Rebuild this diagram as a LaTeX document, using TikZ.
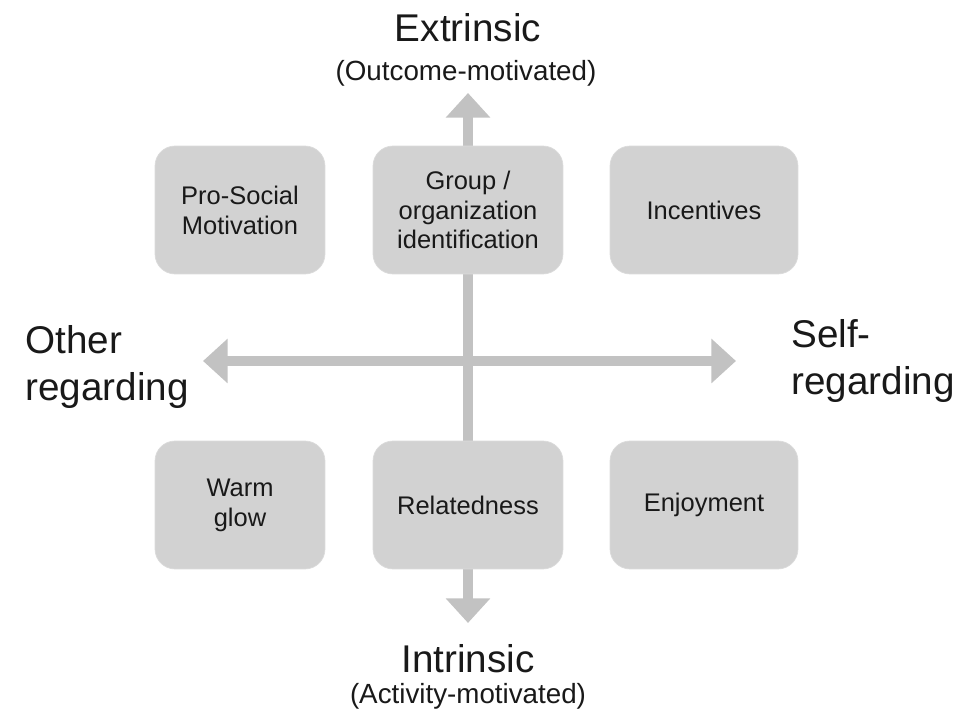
\documentclass[tikz,border=0pt]{standalone}
\usepackage{fontspec}
\setmainfont{Liberation Sans}
\usetikzlibrary{arrows.meta,positioning}
\definecolor{boxgray}{RGB}{210,210,210}
\definecolor{axisgray}{RGB}{194,194,194}

\begin{document}
\begin{tikzpicture}[x=0.02cm,y=-0.02cm,
    every node/.style={align=center,text=black!90},
    motive/.style={rectangle,rounded corners=0.4cm,fill=boxgray,draw=boxgray!80!white,
        minimum height=2.56cm,font=\fontsize{14.5}{17}\selectfont},
    axis/.style={draw=axisgray,line width=6.2pt,
        -{Triangle[length=14pt,width=24.5pt]}},
    pole/.style={inner sep=0pt,font=\fontsize{22}{27}\selectfont},
    sub/.style={inner sep=0pt,font=\fontsize{15.8}{18}\selectfont} ]
    \useasboundingbox (0,0) rectangle (965,715);

    % axes
    \coordinate (mid) at (468,361);
    \coordinate (top) at (468,93);
    \coordinate (bottom) at (468,623);
    \coordinate (left) at (203,361);
    \coordinate (right) at (736,361);
    \draw[axis] (mid) -- (top);
    \draw[axis] (mid) -- (bottom);
    \draw[axis] (mid) -- (left);
    \draw[axis] (mid) -- (right);

    % boxes
    \node[motive,minimum width=3.4cm] (prosocial) at (240,210) {Pro-Social\\Motivation};
    \node[motive,minimum width=3.8cm] (group) at (468,210) {Group /\\organization\\identification};
    \node[motive,minimum width=3.76cm] (incentives) at (704,210) {Incentives};
    \node[motive,minimum width=3.4cm] (warmglow) at (240,505) {Warm\\glow};
    \node[motive,minimum width=3.8cm] (relatedness) at (468,505) {Relatedness};
    \node[motive,minimum width=3.76cm] (enjoyment) at (704,505) {Enjoyment};

    % pole labels
    \node[pole,anchor=base] (extrinsic) at (468,42) {Extrinsic};
    \node[sub,anchor=base] (outcome) at (466,81) {(Outcome-motivated)};
    \node[pole,anchor=base] (intrinsic) at (468,673) {Intrinsic};
    \node[sub,anchor=base] (activity) at (468,704) {(Activity-motivated)};
    \node[pole,anchor=north west,align=left] (other) at (25,325) {Other\\regarding};
    \node[pole,anchor=north west,align=left] (self) at (791,319) {Self-\\regarding};

\end{tikzpicture}
\end{document}
